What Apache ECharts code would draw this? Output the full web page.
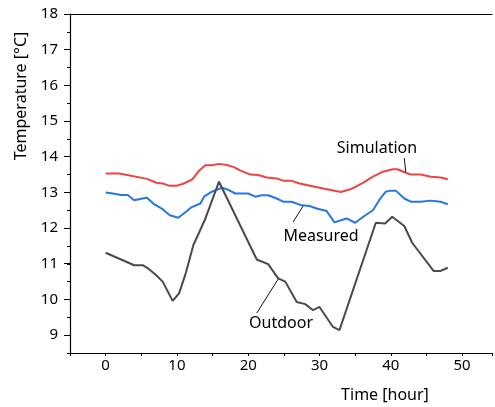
<!DOCTYPE html>
<html lang="en">
<head>
<meta charset="UTF-8">
<title>Temperature</title>
<script src="https://cdn.jsdelivr.net/npm/echarts@6/dist/echarts.min.js"></script>
<style>
  html, body { margin: 0; padding: 0; background: #fff; }
  #box { width: 495px; height: 407px; }
</style>
</head>
<body>
<div id="box"></div>
<script>
  // hours and temperatures
  const simTime = [0, 1.9, 5.8, 7.1, 8, 8.9, 10, 11, 12.2, 13.1, 14, 14.9, 15.9, 17, 18, 18.9, 20.3, 21.4, 22.6, 24, 24.9, 26, 27.2, 30.5, 33, 34.2, 35.1, 36.1, 37.5, 38.9, 40.3, 40.9, 42.1, 42.8, 44.2, 45.6, 47, 48];
  const simTemp = [13.53, 13.53, 13.38, 13.27, 13.25, 13.19, 13.19, 13.25, 13.37, 13.61, 13.76, 13.76, 13.8, 13.77, 13.71, 13.61, 13.5, 13.49, 13.42, 13.39, 13.33, 13.33, 13.25, 13.11, 13.01, 13.08, 13.16, 13.27, 13.44, 13.58, 13.65, 13.65, 13.55, 13.5, 13.5, 13.44, 13.42, 13.37];

  const measTime = [0, 1, 2.2, 3.1, 4, 5, 5.8, 6.8, 8, 9, 10.2, 11.1, 12, 13.3, 13.8, 14.9, 16.3, 17, 18.2, 20, 21, 21.9, 22.8, 24, 24.9, 26.1, 27.3, 28.6, 29.6, 31, 32.1, 33.8, 35, 36.3, 37.5, 38.4, 39.3, 40, 40.7, 41.9, 42.8, 44.2, 45.6, 47, 48];
  const measTemp = [13.0, 12.97, 12.93, 12.93, 12.78, 12.82, 12.85, 12.67, 12.53, 12.36, 12.29, 12.43, 12.58, 12.69, 12.88, 13.02, 13.13, 13.09, 12.97, 12.97, 12.88, 12.92, 12.92, 12.83, 12.74, 12.74, 12.65, 12.62, 12.55, 12.48, 12.16, 12.27, 12.15, 12.34, 12.5, 12.79, 13.02, 13.05, 13.05, 12.83, 12.74, 12.74, 12.77, 12.74, 12.67];

  const outTime = [0, 4, 5.2, 6.1, 7.1, 8, 9.4, 10.3, 11.2, 12.3, 14, 15.9, 21.2, 22.8, 24.2, 25.2, 26.8, 28, 29.1, 30, 31.9, 32.8, 37.9, 39.2, 40.2, 41.9, 43, 46, 47, 48];
  const outTemp = [11.31, 10.96, 10.96, 10.85, 10.68, 10.5, 9.96, 10.17, 10.71, 11.52, 12.27, 13.3, 11.12, 10.99, 10.59, 10.5, 9.93, 9.87, 9.7, 9.79, 9.23, 9.14, 12.15, 12.13, 12.32, 12.06, 11.59, 10.8, 10.8, 10.89];

  // leader lines: [from, to] in data units
  const simLeader = [[41.9, 13.96], [42.1, 13.57]];
  const measLeader = [[26.3, 12.17], [27.7, 12.62]];
  const outLeader = [[21.2, 9.62], [24.2, 10.57]];

  const FONT = "'Noto Sans', sans-serif";

  function pairs(t, v) {
    return t.map((x, i) => [x, v[i]]);
  }

  function leader(p) {
    return {
      silent: true,
      symbol: 'none',
      label: { show: false },
      lineStyle: { color: '#111', width: 1, type: 'solid' },
      data: [[{ coord: p[0] }, { coord: p[1] }]]
    };
  }

  function line(name, t, v, color, lead) {
    return {
      name: name,
      type: 'line',
      xAxisIndex: 0,
      yAxisIndex: 0,
      data: pairs(t, v),
      showSymbol: false,
      lineStyle: { color: color, width: 2 },
      itemStyle: { color: color },
      animation: false,
      markLine: leader(lead)
    };
  }

  const chart = echarts.init(document.getElementById('box'));
  chart.setOption({
    animation: false,
    grid: [
      { left: 70, top: 14, right: 0, bottom: 54 },
      // second grid only for the labelled (integer) y ticks
      { left: 70, top: 14, right: 0, bottom: 72 }
    ],
    xAxis: [
      {
        type: 'value', gridIndex: 0, min: -5, max: 54.2, interval: 5,
        axisLine: { onZero: false, lineStyle: { color: '#000', width: 1.2 } },
        axisTick: { length: 3, lineStyle: { color: '#000' } },
        axisLabel: {
          margin: 5, color: '#000', fontSize: 15, fontFamily: FONT,
          formatter: v => (Math.abs(v % 10) < 1e-6 ? String(v) : '')
        },
        splitLine: { show: false }
      },
      {
        type: 'value', gridIndex: 0, position: 'top', min: -5, max: 54.2,
        axisLine: { show: true, onZero: false, lineStyle: { color: '#000', width: 1.2 } },
        axisTick: { show: false }, axisLabel: { show: false }, splitLine: { show: false }
      },
      {
        type: 'value', gridIndex: 1, show: false, min: -5, max: 54.2
      }
    ],
    yAxis: [
      {
        type: 'value', gridIndex: 0, min: 8.5, max: 18, interval: 0.5,
        axisLine: { show: true, onZero: false, lineStyle: { color: '#000', width: 1.2 } },
        axisTick: { length: 3, lineStyle: { color: '#000' } },
        axisLabel: { show: false },
        splitLine: { show: false }
      },
      {
        type: 'value', gridIndex: 1, min: 9, max: 18, interval: 1,
        axisLine: { show: false, onZero: false },
        axisTick: { show: true, length: 6, lineStyle: { color: '#000' } },
        axisLabel: { margin: 12, color: '#000', fontSize: 15, fontFamily: FONT },
        splitLine: { show: false }
      }
    ],
    series: [
      line('Simulation', simTime, simTemp, '#ef4343', simLeader),
      line('Measured', measTime, measTemp, '#2478e0', measLeader),
      line('Outdoor', outTime, outTemp, '#4a4a4a', outLeader)
    ],
    graphic: [
      {
        type: 'text', x: 21, y: 96, rotation: Math.PI / 2,
        style: { text: 'Temperature [°C]', fill: '#000', font: '16px ' + FONT, textAlign: 'center', textVerticalAlign: 'middle' }
      },
      {
        type: 'text', x: 385, y: 395,
        style: { text: 'Time [hour]', fill: '#000', font: '16px ' + FONT, textAlign: 'center', textVerticalAlign: 'middle' }
      },
      {
        type: 'text', x: 377, y: 148,
        style: { text: 'Simulation', fill: '#000', font: '16px ' + FONT, textAlign: 'center', textVerticalAlign: 'middle' }
      },
      {
        type: 'text', x: 321, y: 236,
        style: { text: 'Measured', fill: '#000', font: '16px ' + FONT, textAlign: 'center', textVerticalAlign: 'middle' }
      },
      {
        type: 'text', x: 281, y: 323,
        style: { text: 'Outdoor', fill: '#000', font: '16px ' + FONT, textAlign: 'center', textVerticalAlign: 'middle' }
      }
    ]
  });
</script>
</body>
</html>
